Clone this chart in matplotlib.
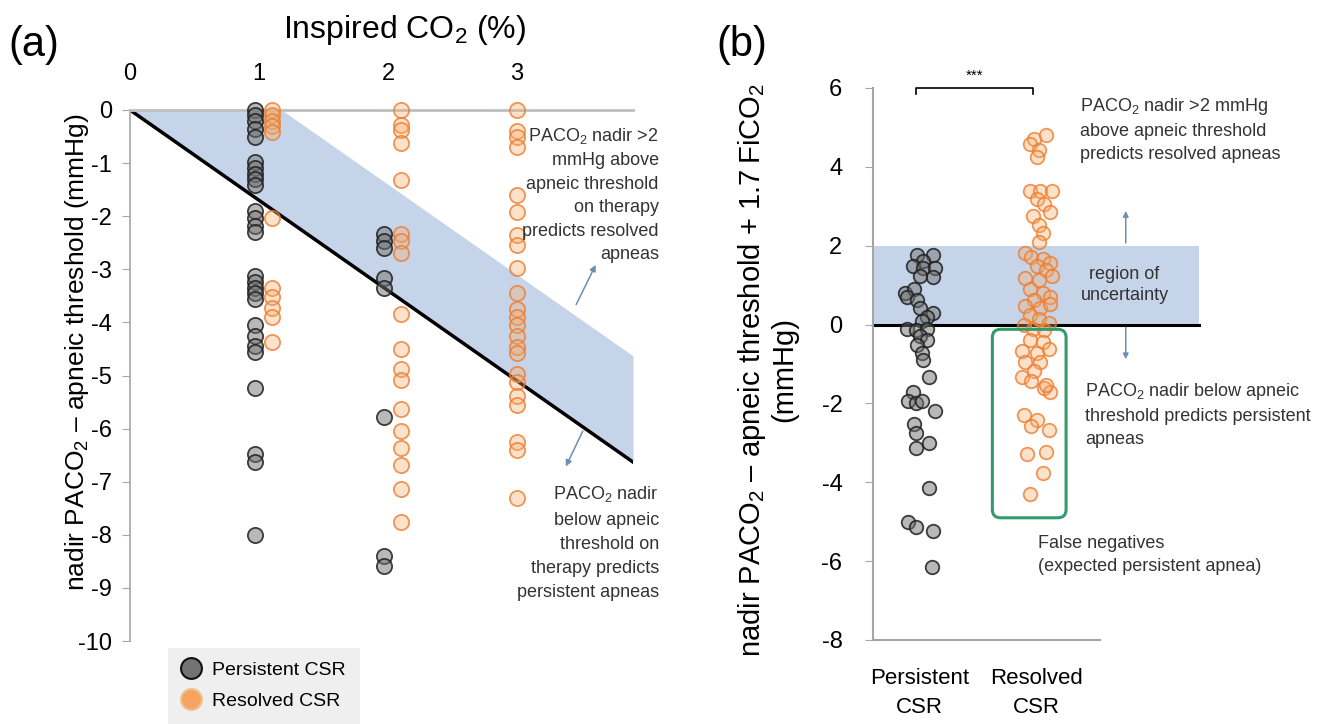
import numpy as np
import matplotlib
matplotlib.use("Agg")
import matplotlib.pyplot as plt
from matplotlib.lines import Line2D
from matplotlib.patches import FancyBboxPatch

plt.rcParams["font.family"] = ["Liberation Sans", "DejaVu Sans"]
plt.rcParams["mathtext.fontset"] = "custom"
plt.rcParams["mathtext.rm"] = "Liberation Sans"
plt.rcParams["axes.unicode_minus"] = False

# ---- panel (a): nadir PACO2 - apneic threshold (mmHg) at each inspired CO2 level
co2_levels = [1, 2, 3]
pers_1pct = [0, -0.1, -0.2, -0.35, -0.5, -0.98, -1.1, -1.2, -1.3, -1.42,
             -1.9, -2.04, -2.18, -2.3, -3.13, -3.24, -3.35, -3.45, -3.56,
             -4.04, -4.25, -4.44, -4.55, -5.24, -6.47, -6.62, -8.0]
pers_2pct = [-2.33, -2.47, -2.6, -3.16, -3.35, -5.78, -8.4, -8.58]
res_1pct = [0, -0.1, -0.2, -0.3, -0.42, -2.04, -3.35, -3.53, -3.72, -3.9, -4.36]
res_2pct = [0, -0.29, -0.38, -0.62, -1.31, -2.33, -2.47, -2.69, -3.85, -4.51,
            -4.87, -5.09, -5.64, -6.04, -6.36, -6.69, -7.13, -7.75]
res_3pct = [0, -0.4, -0.5, -0.69, -1.6, -1.93, -2.36, -2.55, -2.98, -3.45,
            -3.75, -3.89, -4.04, -4.25, -4.47, -4.58, -4.98, -5.13, -5.38,
            -5.56, -6.25, -6.4, -7.31]
slope = 1.7          # mmHg per % inspired CO2
margin = 2.0         # mmHg above threshold

# ---- panel (b): nadir PACO2 - apneic threshold + 1.7FiCO2 (mmHg)
pers_b = [1.76, 1.76, 1.62, 1.48, 1.43, 1.43, 1.24, 1.21, 0.81, 0.9, 0.71, 0.62,
          0.43, 0.29, 0.19, 0.1, -0.1, -0.14, -0.1, -0.29, -0.38, -0.52, -0.71,
          -0.9, -1.33, -1.71, -1.95, -2.0, -1.95, -2.19, -2.52, -2.76, -3.14,
          -3.0, -4.14, -5.0, -5.14, -5.24, -6.14]
pers_b_jitter = [-0.02, 0.11, 0.03, -0.06, 0.03, 0.13, 0.0, 0.11, -0.13, -0.05,
                 -0.11, -0.02, 0.0, 0.11, 0.06, 0.02, -0.11, -0.03, 0.06, 0.0,
                 0.06, -0.02, 0.02, 0.03, 0.08, -0.06, -0.1, -0.03, 0.02, 0.13,
                 -0.05, -0.03, -0.03, 0.08, 0.08, -0.1, -0.03, 0.11, 0.1]
res_b = [4.71, 4.81, 4.57, 4.43, 4.24, 3.38, 3.38, 3.38, 3.19, 3.05, 2.76, 2.86,
         2.52, 2.33, 2.1, 1.81, 1.71, 1.67, 1.57, 1.48, 1.38, 1.19, 1.14, 1.24,
         0.9, 0.81, 0.71, 0.62, 0.48, 0.43, 0.52, 0.24, 0.14, 0.05, 0.0, -0.1,
         -0.14, -0.38, -0.43, -0.67, -0.71, -0.62, -0.95, -0.95, -1.19, -1.33,
         -1.43, -1.62, -1.71, -1.52, -2.29, -2.43, -2.57, -2.67, -3.29, -3.24,
         -3.76, -4.29]
res_b_jitter = [-0.02, 0.08, -0.06, 0.02, 0.0, -0.06, 0.03, 0.13, 0.0, 0.06,
                -0.03, 0.11, 0.02, 0.05, 0.02, -0.1, -0.05, 0.05, 0.11, 0.0,
                0.08, -0.1, 0.02, 0.13, -0.06, 0.05, 0.11, -0.02, -0.1, 0.03,
                0.11, -0.06, 0.02, 0.1, -0.11, -0.03, 0.06, -0.06, 0.05, -0.13,
                0.0, 0.1, -0.1, 0.03, -0.02, -0.13, -0.05, 0.06, 0.11, 0.08,
                -0.11, 0.0, -0.05, 0.1, -0.08, 0.08, 0.05, -0.06]
categories = ["Persistent\nCSR", "Resolved\nCSR"]

W, H = 1324, 724
shade = "#c5d4e9"
arrow_c = "#6d8db4"
gray_ax = "#a6a6a6"
txt_c = "#333333"
pers_style = dict(s=120, facecolor=(0.45, 0.45, 0.45, 0.5),
                  edgecolor=(0.12, 0.12, 0.12, 0.85), linewidth=1.3)
res_style = dict(s=120, facecolor=(0.97, 0.68, 0.42, 0.35),
                 edgecolor=(0.93, 0.49, 0.19, 0.8), linewidth=1.3)

fig = plt.figure(figsize=(W / 100, H / 100), dpi=100)
fig.patch.set_facecolor("white")

# ======================= panel (a) =======================
ax = fig.add_axes([130 / W, 1 - 641 / H, 503 / W, 531 / H])
xmax = 3.9
ax.set_xlim(0, xmax)
ax.set_ylim(-10, 0)

xs = np.array([0, margin / slope, xmax])
ax.fill_between(xs, -slope * xs, np.minimum(0, margin - slope * xs),
                color=shade, lw=0, zorder=1)
ax.plot([0, xmax], [0, -slope * xmax], color="black", lw=2.5, zorder=2)

for lvl, vals in zip(co2_levels[:2], [pers_1pct, pers_2pct]):
    ax.scatter(np.full(len(vals), lvl - 0.03), vals, zorder=3, clip_on=False,
               **pers_style)
for lvl, vals in zip(co2_levels, [res_1pct, res_2pct, res_3pct]):
    off = 0.1 if lvl < 3 else 0.0
    ax.scatter(np.full(len(vals), lvl + off), vals, zorder=3, clip_on=False,
               **res_style)

for side in ["right", "bottom"]:
    ax.spines[side].set_visible(False)
ax.spines["top"].set_color("#bfbfbf")
ax.spines["top"].set_linewidth(2)
ax.spines["left"].set_color(gray_ax)
ax.spines["left"].set_linewidth(1.2)
ax.xaxis.tick_top()
ax.set_xticks([0, 1, 2, 3])
ax.tick_params(axis="x", length=0, pad=18, labelsize=17)
ax.set_yticks(range(0, -11, -1))
ax.set_yticklabels([str(v) for v in range(0, -11, -1)])
ax.tick_params(axis="y", length=6, color=gray_ax, pad=7, labelsize=17)

ax.text(4.1, -0.3,
        "PACO$_\\mathregular{2}$ nadir >2\nmmHg above\napneic threshold\non therapy\n"
        "predicts resolved\napneas",
        ha="right", va="top", fontsize=13, color=txt_c, linespacing=1.5,
        clip_on=False)
ax.text(4.1, -7.05,
        "PACO$_\\mathregular{2}$ nadir\nbelow apneic\nthreshold on\ntherapy predicts\n"
        "persistent apneas",
        ha="right", va="top", fontsize=13, color=txt_c, linespacing=1.55,
        clip_on=False)
arw = dict(arrowstyle="-|>", color=arrow_c, lw=1.1, mutation_scale=9)
ax.annotate("", xy=(3.62, -2.87), xytext=(3.45, -3.71), arrowprops=arw,
            annotation_clip=False)
ax.annotate("", xy=(3.37, -6.76), xytext=(3.52, -6.0), arrowprops=arw,
            annotation_clip=False)

fig.text(405 / W, 1 - 30 / H, "Inspired CO$_\\mathregular{2}$ (%)", ha="center",
         va="center", fontsize=23)
fig.text(77 / W, 1 - 352 / H,
         "nadir PACO$_\\mathregular{2}$ \u2013 apneic threshold (mmHg)",
         rotation=90, ha="center", va="center", fontsize=19)
fig.text(8 / W, 1 - 45 / H, "(a)", ha="left", va="center", fontsize=30)

leg_handles = [
    Line2D([], [], ls="none", marker="o", markersize=15,
           markerfacecolor=(0.45, 0.45, 0.45), markeredgecolor="#111111",
           markeredgewidth=1.5, label="Persistent CSR"),
    Line2D([], [], ls="none", marker="o", markersize=15,
           markerfacecolor="#f4a460", markeredgecolor="#f0c090",
           markeredgewidth=1.5, label="Resolved CSR"),
]
leg = fig.legend(handles=leg_handles, loc="upper left",
                 bbox_to_anchor=(158 / W, 1 - 638 / H), fontsize=14,
                 frameon=True, fancybox=False, facecolor="#efefef",
                 edgecolor="none", framealpha=1, handletextpad=0.6,
                 labelspacing=0.7, borderpad=0.7, handlelength=1.0)

# ======================= panel (b) =======================
bx = fig.add_axes([873 / W, 1 - 640 / H, 227 / W, 552 / H])
bx.set_xlim(-0.40, 1.54)
bx.set_ylim(-8, 6)
band_right = 2.39

band = bx.fill_between([-0.40, band_right], 0, 2, color=shade, lw=0, zorder=1)
band.set_clip_on(False)
bx.plot([-0.40, band_right], [0, 0], color="black", lw=2.2, zorder=2,
        clip_on=False)

bx.scatter(np.array(pers_b_jitter), pers_b, zorder=3, clip_on=False,
           **dict(pers_style, s=95))
bx.scatter(1 + np.array(res_b_jitter), res_b, zorder=3, clip_on=False,
           **dict(res_style, s=95))

box = FancyBboxPatch((0.62, -4.9), 0.63, 4.78,
                     boxstyle="round,pad=0,rounding_size=0.07",
                     mutation_aspect=2.95, facecolor="none",
                     edgecolor="#339a6b", lw=2.2, zorder=4, clip_on=False)
bx.add_patch(box)

bx.plot([-0.03, -0.03, 0.97, 0.97], [5.86, 6.0, 6.0, 5.86], color="black",
        lw=1.2, clip_on=False)
bx.text(0.47, 6.12, "***", ha="center", va="bottom", fontsize=11)

bx.text(1.37, 5.8,
        "PACO$_\\mathregular{2}$ nadir >2 mmHg\nabove apneic threshold\n"
        "predicts resolved apneas",
        ha="left", va="top", fontsize=13, color=txt_c, linespacing=1.45,
        clip_on=False)
bx.text(1.75, 1.0, "region of\nuncertainty", ha="center", va="center",
        fontsize=13, color=txt_c, linespacing=1.3, clip_on=False)
bx.text(1.41, -1.44,
        "PACO$_\\mathregular{2}$ nadir below apneic\nthreshold predicts persistent\n"
        "apneas",
        ha="left", va="top", fontsize=13, color=txt_c, linespacing=1.45,
        clip_on=False)
bx.text(1.01, -5.34, "False negatives\n(expected persistent apnea)",
        ha="left", va="top", fontsize=13, color=txt_c, linespacing=1.45,
        clip_on=False)
arw_b = dict(arrowstyle="-|>", color=arrow_c, lw=1.1, mutation_scale=8)
bx.annotate("", xy=(1.76, 2.95), xytext=(1.76, 2.0), arrowprops=arw_b,
            annotation_clip=False)
bx.annotate("", xy=(1.76, -0.95), xytext=(1.76, 0.0), arrowprops=arw_b,
            annotation_clip=False)

for side in ["right", "top"]:
    bx.spines[side].set_visible(False)
for side in ["left", "bottom"]:
    bx.spines[side].set_color(gray_ax)
    bx.spines[side].set_linewidth(1.5)
bx.set_xticks([0, 1])
bx.set_xticklabels(categories, linespacing=1.5)
bx.tick_params(axis="x", length=0, pad=20, labelsize=16)
bx.set_yticks(range(-8, 7, 2))
bx.set_yticklabels([str(v) for v in range(-8, 7, 2)])
bx.tick_params(axis="y", length=6, color=gray_ax, pad=16, labelsize=17)

fig.text(767 / W, 1 - 370 / H,
         "nadir PACO$_\\mathregular{2}$ \u2013 apneic threshold + 1.7\u2009FiCO$_\\mathregular{2}$\n(mmHg)",
         rotation=90, ha="center", va="center", fontsize=21, linespacing=1.1,
         multialignment="center")
fig.text(716 / W, 1 - 45 / H, "(b)", ha="left", va="center", fontsize=30)

fig.savefig("out.png", dpi=100, facecolor="white")
